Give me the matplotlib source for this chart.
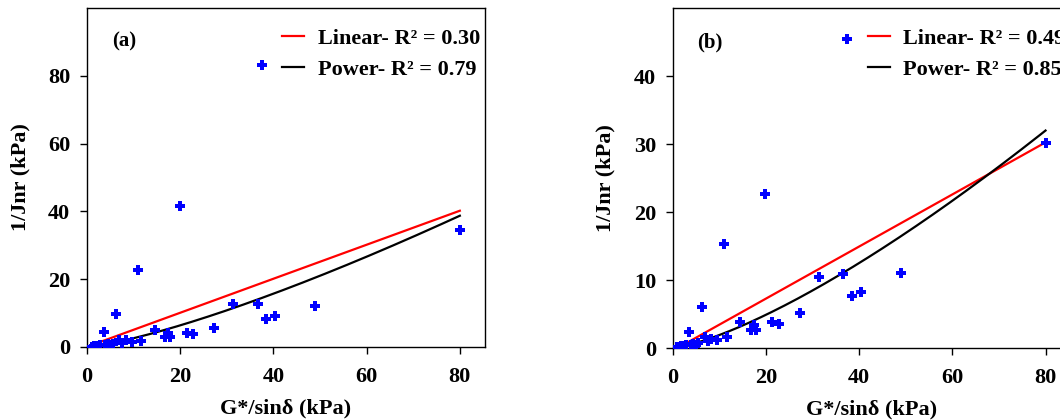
import numpy as np
import matplotlib
matplotlib.use("Agg")
import matplotlib.pyplot as plt

plt.rcParams['font.family'] = ['Liberation Serif', 'DejaVu Serif']
plt.rcParams['font.weight'] = 'bold'

# G*/sin(delta) (kPa), same for both panels
g_sin = [1.0, 1.4, 1.8, 2.2, 2.8, 3.6, 3.9, 4.4, 4.9, 5.5, 6.3, 6.9, 7.6, 8.3, 9.6,
         11.0, 11.6, 14.5, 16.8, 17.4, 17.8, 19.9, 21.4, 22.8, 27.3, 31.4, 36.6,
         37.5, 38.4, 40.4, 49.0, 80.0]
# 1/Jnr (kPa), panel (a)
inv_jnr_a = [0.1, 0.3, 0.4, 0.3, 0.6, 4.4, 0.5, 0.8, 0.7, 1.0, 9.8, 2.1, 1.2, 2.0, 1.4,
             22.7, 1.9, 5.1, 2.9, 4.1, 2.9, 41.6, 4.2, 3.8, 5.5, 12.7, 12.6,
             83.3, 8.4, 9.1, 12.1, 34.4]
# 1/Jnr (kPa), panel (b)
inv_jnr_b = [0.1, 0.2, 0.3, 0.3, 0.4, 2.3, 0.4, 0.6, 0.5, 0.8, 6.1, 1.6, 1.0, 1.3, 1.2,
             15.3, 1.6, 3.8, 2.6, 3.4, 2.7, 22.7, 3.8, 3.5, 5.1, 10.4, 10.9,
             45.4, 7.7, 8.2, 11.0, 30.2]

# fitted trend lines: linear y = m*x + c, power y = a*x^b
lin_a = [0.5016, 0.07]
pow_a = [0.130, 1.30]
lin_b = [0.383, -0.40]
pow_b = [0.084, 1.356]
r2_lin = ["0.30", "0.49"]
r2_pow = ["0.79", "0.85"]
panel_tags = ["(a)", "(b)"]
y_limits = [100, 50]
y_ticks = [[0, 20, 40, 60, 80], [0, 10, 20, 30, 40]]

fig = plt.figure(figsize=(10.6, 4.2), dpi=100)
ax_a = fig.add_axes([87 / 1060, 73 / 420, 398 / 1060, 339 / 420])
ax_b = fig.add_axes([672.7 / 1060, 72 / 420, 398 / 1060, 340 / 420])

panels = [(ax_a, inv_jnr_a, lin_a, pow_a), (ax_b, inv_jnr_b, lin_b, pow_b)]
x = np.array(g_sin)
xx = np.linspace(x.min(), x.max(), 200)

for i, (ax, yv, lin, pw) in enumerate(panels):
    ax.scatter(x, yv, marker='P', s=58, color='#0000ff', linewidths=0, zorder=3)
    ax.plot(xx, lin[0] * xx + lin[1], color='#ff0000', lw=1.6,
            label=f"Linear- R\u00b2 = {r2_lin[i]}")
    ax.plot(xx, pw[0] * xx ** pw[1], color='black', lw=1.6,
            label=f"Power- R\u00b2 = {r2_pow[i]}")

    ax.set_xlim(0, 85.4)
    ax.set_ylim(0, y_limits[i])
    ax.set_xticks([0, 20, 40, 60, 80])
    ax.set_yticks(y_ticks[i])
    ax.tick_params(direction='out', length=5, width=1, labelsize=16)
    ax.tick_params(axis='x', pad=9.5)
    ax.tick_params(axis='y', pad=7)
    for lab in ax.get_xticklabels() + ax.get_yticklabels():
        lab.set_fontweight('bold')
    for sp in ax.spines.values():
        sp.set_linewidth(1)

    ax.set_xlabel("G*/sin\u03b4 (kPa)", fontsize=16, fontweight='bold', labelpad=8)
    ax.set_ylabel("1/Jnr (kPa)", fontsize=16, fontweight='bold', labelpad=13)
    ax.text(0.062, 0.9, panel_tags[i], transform=ax.transAxes, fontsize=15,
            fontweight='bold', ha='left', va='center')
    ax.legend(loc='upper left', bbox_to_anchor=(0.44, 1.0), frameon=False,
              prop={'size': 16, 'weight': 'bold'}, handlelength=1.0,
              handletextpad=0.6, labelspacing=0.5)

fig.savefig("out.png", dpi=100)
